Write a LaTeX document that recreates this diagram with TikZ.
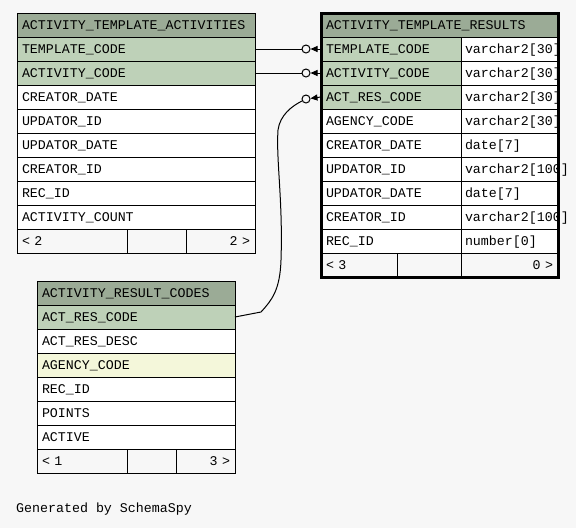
\documentclass[tikz,border=0pt]{standalone}
\usepackage{fontspec}
\setmonofont{Liberation Mono}
\usepackage{xcolor}
\usetikzlibrary{arrows.meta, positioning}
\definecolor{pagebg}{HTML}{F7F7F7}
\definecolor{headbg}{HTML}{9BAB96}
\definecolor{keybg}{HTML}{BED1B8}
\definecolor{idxbg}{HTML}{F4F7DA}

\begin{document}
\begin{tikzpicture}[x=1pt, y=-1pt,
    cell/.style={draw, line width=1pt, fill=white, anchor=north west, outer sep=0pt,
        inner xsep=5pt, inner ysep=0pt, minimum height=24pt, text width=#1,
        text height=10.4pt, text depth=1.6pt, align=left,
        font=\ttfamily\fontsize{13.3}{14}\selectfont},
    footl/.style={cell=#1, fill=pagebg},
    footr/.style={cell=#1, fill=pagebg, align=right},
    ring/.style={circle, draw, line width=1pt, fill=pagebg, minimum size=8pt, inner sep=0pt},
    link/.style={line width=1pt},
    crow/.style={line width=1pt, -{Triangle[length=7pt, width=6pt]}}]

    % 背景
    \path[use as bounding box, fill=pagebg] (0,0) rectangle (576,528);

    % ACTIVITY_TEMPLATE_ACTIVITIES
    \node (t1h) [cell=228pt, fill=headbg] at (17, 13) {ACTIVITY\_TEMPLATE\_ACTIVITIES};
    \foreach \txt/\clr [count=\i] in {TEMPLATE\_CODE/keybg, ACTIVITY\_CODE/keybg,
        CREATOR\_DATE/white, UPDATOR\_ID/white, UPDATOR\_DATE/white,
        CREATOR\_ID/white, REC\_ID/white, ACTIVITY\_COUNT/white} {
        \node (t1r\i) [cell=228pt, fill=\clr] at (17, 13+24*\i) {\txt};
    }
    \node (t1fl) [footl=100pt] at (17, 229) {< 2};
    \node (t1fm) [footl=49pt] at (127, 229) {};
    \node (t1fr) [footr=59pt] at (186, 229) {2 >};

    % ACTIVITY_TEMPLATE_RESULTS
    \node (t2h) [cell=227pt, fill=headbg] at (321, 13) {ACTIVITY\_TEMPLATE\_RESULTS};
    \foreach \txt/\typ/\clr [count=\i] in {TEMPLATE\_CODE/varchar2[30]/keybg,
        ACTIVITY\_CODE/varchar2[30]/keybg, ACT\_RES\_CODE/varchar2[30]/keybg,
        AGENCY\_CODE/varchar2[30]/white, CREATOR\_DATE/date[7]/white,
        UPDATOR\_ID/varchar2[100]/white, UPDATOR\_DATE/date[7]/white,
        CREATOR\_ID/varchar2[100]/white, REC\_ID/number[0]/white} {
        \node (t2r\i) [cell=130pt, fill=\clr] at (321, 13+24*\i) {\txt};
        \node (t2t\i) [cell=87pt, inner xsep=4pt, text width=89pt] at (461, 13+24*\i) {\typ};
    }
    \node (t2fl) [footl=66pt] at (321, 253) {< 3};
    \node (t2fm) [footl=54pt] at (397, 253) {};
    \node (t2fr) [footr=87pt] at (461, 253) {0 >};
    \draw[line width=3pt] (t2h.north west) rectangle (t2fr.south east);

    % ACTIVITY_RESULT_CODES
    \node (t3h) [cell=188pt, fill=headbg] at (37, 281) {ACTIVITY\_RESULT\_CODES};
    \foreach \txt/\clr [count=\i] in {ACT\_RES\_CODE/keybg, ACT\_RES\_DESC/white,
        AGENCY\_CODE/idxbg, REC\_ID/white, POINTS/white, ACTIVE/white} {
        \node (t3r\i) [cell=188pt, fill=\clr] at (37, 281+24*\i) {\txt};
    }
    \node (t3fl) [footl=80pt] at (37, 449) {< 1};
    \node (t3fm) [footl=39pt] at (127, 449) {};
    \node (t3fr) [footr=49pt] at (176, 449) {3 >};

    % 外键连线
    \node (c1) [ring] at (306, 49) {};
    \node (c2) [ring] at (306, 73) {};
    \node (c3) [ring] at (306, 99) {};
    \draw[link] (t1r1.east) -- (c1);
    \draw[link] (t1r2.east) -- (c2);
    \draw[link] (t3r1.east) -- (261, 312) .. controls (272, 300) and (280, 290) .. (281, 260)
        .. controls (283, 200) and (276, 160) .. (278, 130)
        .. controls (280, 115) and (292, 106) .. (c3);
    \draw[crow] (t2r1.west) -- (c1);
    \draw[crow] (t2r2.west) -- (c2);
    \draw[crow] (t2r3.west) -- (c3);

    % 说明
    \node (gen) [anchor=west, inner sep=0pt, font=\ttfamily\fontsize{13.3}{14}\selectfont] at (16, 509) {Generated by SchemaSpy};
\end{tikzpicture}
\end{document}
